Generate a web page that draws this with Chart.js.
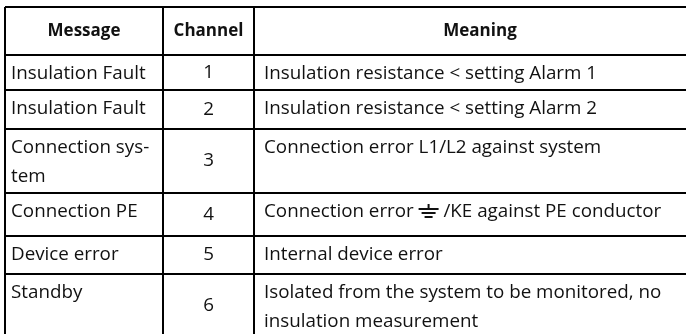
<!DOCTYPE html>
<html>
<head>
<meta charset="utf-8">
<script src="https://cdn.jsdelivr.net/npm/chart.js@4.4.0/dist/chart.umd.min.js"></script>
<style>
  html, body { margin: 0; padding: 0; background: #fff; overflow: hidden; }
  #table { display: block; }
</style>
</head>
<body>
<canvas id="table" width="710" height="340"></canvas>
<script>
// table content
const headers = ['Message', 'Channel', 'Meaning'];
const messages = [
  ['Insulation Fault'],
  ['Insulation Fault'],
  ['Connection sys-', 'tem'],
  ['Connection PE'],
  ['Device error'],
  ['Standby'],
];
const channels = ['1', '2', '3', '4', '5', '6'];
const meanings = [
  ['Insulation resistance < setting Alarm 1'],
  ['Insulation resistance < setting Alarm 2'],
  ['Connection error L1/L2 against system'],
  ['Connection error {earth} /KE against PE conductor'],
  ['Internal device error'],
  ['Isolated from the system to be monitored, no', 'insulation measurement'],
];

// layout in px (header row first)
const colWidths = [158, 91, 452];
const rowHeights = [48, 35, 39, 64, 43, 38, 64];

const edges = (sizes) => sizes.reduce((acc, s) => { acc.push(acc[acc.length - 1] + s); return acc; }, [0]);
const colBounds = edges(colWidths);
const rowBounds = edges(rowHeights);

const FONT = '"Open Sans", "Noto Sans", sans-serif';
const BODY_SIZE = 18.8;
const LINE_H = 29;
const FIRST_LINE = 19;

// ground symbol drawn inline in the meaning text
function drawEarth(ctx, x, cy) {
  ctx.save();
  ctx.strokeStyle = ctx.fillStyle;
  ctx.lineWidth = 2;
  ctx.beginPath();
  ctx.moveTo(x + 10, cy - 8); ctx.lineTo(x + 10, cy - 3);
  ctx.moveTo(x, cy - 3); ctx.lineTo(x + 20, cy - 3);
  ctx.moveTo(x + 3, cy + 1); ctx.lineTo(x + 17, cy + 1);
  ctx.moveTo(x + 6, cy + 5); ctx.lineTo(x + 14, cy + 5);
  ctx.stroke();
  ctx.restore();
  return 20;
}

function drawLine(ctx, text, x, cy) {
  const parts = text.split('{earth}');
  parts.forEach((p, i) => {
    ctx.fillText(p, x, cy);
    x += ctx.measureText(p).width;
    if (i < parts.length - 1) x += drawEarth(ctx, x, cy);
  });
}

// writes the cell texts using the chart's scales
const cellText = {
  id: 'cellText',
  afterDraw(chart) {
    const { ctx } = chart;
    const px = (v) => chart.scales.x.getPixelForValue(v);
    const py = (v) => chart.scales.y.getPixelForValue(v);
    ctx.save();
    ctx.fillStyle = '#111';
    ctx.textBaseline = 'middle';

    // header row
    ctx.font = 'bold 17px ' + FONT;
    ctx.textAlign = 'center';
    headers.forEach((h, c) => {
      ctx.fillText(h, (px(colBounds[c]) + px(colBounds[c + 1])) / 2, (py(rowBounds[0]) + py(rowBounds[1])) / 2);
    });

    ctx.font = BODY_SIZE + 'px ' + FONT;
    for (let r = 0; r < channels.length; r++) {
      const top = py(rowBounds[r + 1]);
      const bottom = py(rowBounds[r + 2]);

      ctx.textAlign = 'left';
      messages[r].forEach((line, i) => drawLine(ctx, line, px(colBounds[0]) + 6, top + FIRST_LINE + i * LINE_H));
      meanings[r].forEach((line, i) => drawLine(ctx, line, px(colBounds[2]) + 10, top + FIRST_LINE + i * LINE_H));

      ctx.textAlign = 'center';
      ctx.fillText(channels[r], (px(colBounds[1]) + px(colBounds[2])) / 2, (top + bottom) / 2);
    }
    ctx.restore();
  }
};

const gridAxis = (bounds, reverse) => ({
  type: 'linear',
  min: 0,
  max: bounds[bounds.length - 1],
  reverse: reverse,
  afterBuildTicks: (scale) => { scale.ticks = bounds.map((v) => ({ value: v })); },
  ticks: { display: false },
  grid: { color: '#000', lineWidth: 2, drawTicks: false },
  border: { display: false },
});

document.fonts.load(BODY_SIZE + 'px "Open Sans"').then(() => document.fonts.load('bold 17px "Open Sans"')).finally(() => {
  new Chart(document.getElementById('table'), {
    type: 'scatter',
    data: { datasets: [{ data: [] }] },
    options: {
      responsive: false,
      animation: false,
      layout: { padding: { left: 5, top: 7, right: 4, bottom: 2 } },
      scales: {
        x: gridAxis(colBounds, false),
        y: gridAxis(rowBounds, true),
      },
      plugins: { legend: { display: false }, tooltip: { enabled: false } },
    },
    plugins: [cellText],
  });
});
</script>
</body>
</html>
